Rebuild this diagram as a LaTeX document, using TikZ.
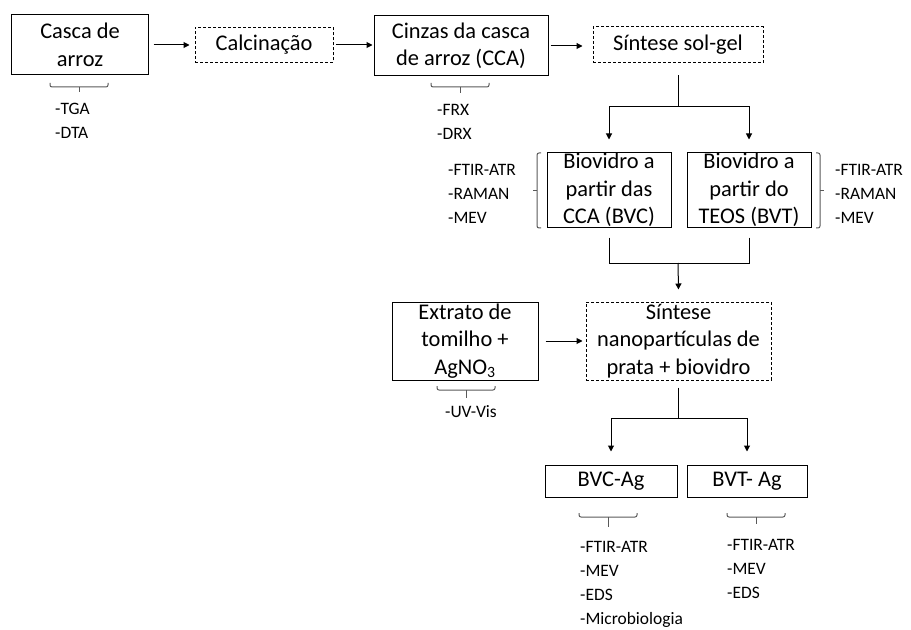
\documentclass[tikz,border=0pt]{standalone}
\usepackage{fontspec}
\setmainfont{Carlito}
\usetikzlibrary{arrows.meta}

\begin{document}
\begin{tikzpicture}[x=1bp,y=-1bp,
    box/.style={draw=black, line width=1bp, inner sep=0pt, align=center,
                font=\fontsize{22.5}{27.5}\selectfont},
    dbox/.style={box, dash pattern=on 3bp off 2bp},
    lst/.style={anchor=west, inner sep=0pt, align=left,
                font=\fontsize{17.5}{24}\selectfont},
    ln/.style={line width=1bp},
    arr/.style={ln, -{Triangle[length=6bp,width=6bp]}},
    brc/.style={draw=black!65, line width=1bp, rounded corners=2bp}]
\useasboundingbox (0,0) rectangle (911,630);

% Drawing top row
\node[box, minimum width=136bp, minimum height=60bp] (casca) at (80,45) {Casca de\\arroz};
\node[dbox, minimum width=138bp, minimum height=35bp] (calc) at (264,45) {Calcinação};
\node[box, minimum width=174bp, minimum height=60bp] (cinzas) at (461,46) {Cinzas da casca\\de arroz (CCA)};
\node[dbox, minimum width=170bp, minimum height=36bp] (solgel) at (678,45) {Síntese sol-gel};

\draw[arr, shorten <=5bp, shorten >=5bp] (casca.east) -- (casca.east -| calc.west);
\draw[arr, shorten <=2bp, shorten >=1bp] (calc.east) -- (calc.east -| cinzas.west);
\draw[arr, shorten <=2bp, shorten >=10bp] (cinzas.east) -- (cinzas.east -| solgel.west);

% Analyses of the top row
\draw[brc] (50,83) -- (50,87) -- (108,87) -- (108,83);
\draw[brc] (79,87) -- (79,92);
\node[lst] (tga) at (55,121) {-TGA\\-DTA};
\draw[brc] (431,83) -- (431,87) -- (489,87) -- (489,83);
\draw[brc] (460,87) -- (460,93);
\node[lst] (frx) at (437,121.5) {-FRX\\-DRX};

% Drawing bioglass boxes
\node[box, minimum width=124bp, minimum height=74bp] (bvc) at (609,190) {Biovidro a\\partir das\\CCA (BVC)};
\node[box, minimum width=124bp, minimum height=74bp] (bvt) at (749,190) {Biovidro a\\partir do\\TEOS (BVT)};

\coordinate (forka) at (678,107);
\draw[ln] ([yshift=-12bp]solgel.south) -- (forka);
\draw[arr] (forka) -| ([yshift=13bp]bvc.north);
\draw[arr] (forka) -| ([yshift=13bp]bvt.north);

\draw[brc] (541,153) -- (537,153) -- (537,228) -- (541,228);
\draw[brc] (537,191) -- (533,191);
\node[lst] (bvclist) at (448,194) {-FTIR-ATR\\-RAMAN\\-MEV};
\draw[brc] (816,153) -- (820,153) -- (820,228) -- (816,228);
\draw[brc] (820,191) -- (824,191);
\node[lst] (bvtlist) at (835,194) {-FTIR-ATR\\-RAMAN\\-MEV};

% Drawing synthesis of nanoparticles
\node[box, minimum width=146bp, minimum height=78bp] (extrato) at (465,341) {Extrato de\\tomilho +\\AgNO\textsubscript{3}};
\node[dbox, minimum width=185bp, minimum height=78bp] (sintese) at (678.5,341) {Síntese\\nanopartículas de\\prata + biovidro};

\coordinate (joinb) at (678,263);
\draw[ln] ([yshift=-10bp]bvc.south) |- (joinb);
\draw[ln] ([yshift=-10bp]bvt.south) |- (joinb);
\draw[arr] (joinb) -- ([yshift=12bp]sintese.north);
\draw[arr, shorten <=7bp, shorten >=3bp] (extrato.east) -- (sintese.west);

\draw[brc] (437,386) -- (437,390) -- (495,390) -- (495,386);
\draw[brc] (466,390) -- (466,398);
\node[lst] (uvvis) at (445,412) {-UV-Vis};

% Drawing final products
\node[box, minimum width=132bp, minimum height=32bp] (bvcag) at (611,481) {BVC-Ag};
\node[box, minimum width=120bp, minimum height=32bp] (bvtag) at (747,481) {BVT- Ag};

\coordinate (forkc) at (678.5,418);
\draw[ln] ([yshift=-7bp]sintese.south) -- (forkc);
\draw[arr] (forkc) -| ([yshift=13bp]bvcag.north);
\draw[arr] (forkc) -| ([yshift=13bp]bvtag.north);

\draw[brc] (579,513) -- (579,517) -- (637,517) -- (637,513);
\draw[brc] (608,517) -- (608,527);
\node[lst] (bvcaglist) at (580,584.5) {-FTIR-ATR\\-MEV\\-EDS\\-Microbiologia};
\draw[brc] (727,513) -- (727,517) -- (785,517) -- (785,513);
\draw[brc] (756,517) -- (756,524);
\node[lst] (bvtaglist) at (727,569) {-FTIR-ATR\\-MEV\\-EDS};

\end{tikzpicture}
\end{document}
